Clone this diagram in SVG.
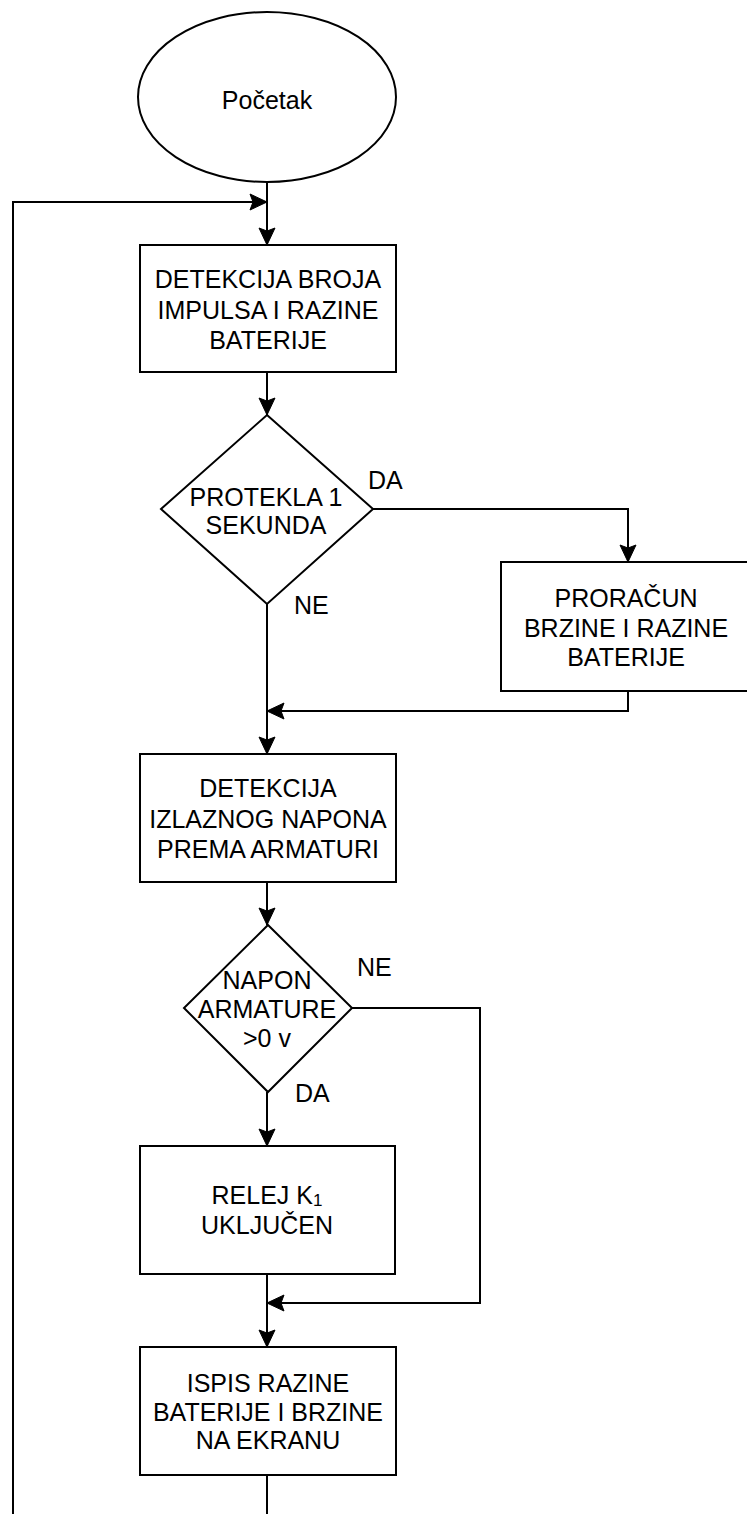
<svg xmlns="http://www.w3.org/2000/svg" width="747" height="1514" viewBox="0 0 747 1514">
<style>
.shape{fill:#fff;stroke:#000;stroke-width:2}
.conn{fill:none;stroke:#000;stroke-width:2}
text{font-family:"Liberation Sans",Arial,sans-serif;font-size:25px;fill:#000}
.c{text-anchor:middle}
</style>
<defs>
<marker id="arr" markerUnits="userSpaceOnUse" markerWidth="18" markerHeight="18" refX="17" refY="8" orient="auto" overflow="visible">
<path d="M0,0 L17,8 L0,16 L3,8 Z" fill="#000" stroke="#000" stroke-width="1" stroke-linejoin="miter"/>
</marker>
</defs>
<rect width="747" height="1514" fill="#fff"/>
<g id="connectors">
<path class="conn" d="M267,182 V245" marker-end="url(#arr)"/>
<path class="conn" d="M267,1475 V1530 H13 V202 H267" marker-end="url(#arr)"/>
<path class="conn" d="M267,372 V415" marker-end="url(#arr)"/>
<path class="conn" d="M373,509 H628 V562" marker-end="url(#arr)"/>
<path class="conn" d="M267,604 V754" marker-end="url(#arr)"/>
<path class="conn" d="M628,691 V711 H267" marker-end="url(#arr)"/>
<path class="conn" d="M267,882 V925" marker-end="url(#arr)"/>
<path class="conn" d="M267,1092 V1146" marker-end="url(#arr)"/>
<path class="conn" d="M352,1008 H480 V1303 H267" marker-end="url(#arr)"/>
<path class="conn" d="M267,1274 V1347" marker-end="url(#arr)"/>
<text x="368" y="489">DA</text>
<text x="294" y="614">NE</text>
<text x="357" y="976">NE</text>
<text x="295" y="1102">DA</text>
</g>
<g id="start">
<ellipse class="shape" cx="267" cy="97" rx="129" ry="85"/>
<text class="c" x="267" y="109">Početak</text>
</g>
<g id="detekcija-impulsa">
<rect class="shape" x="140" y="245" width="256" height="127"/>
<text class="c" x="268" y="288">DETEKCIJA BROJA</text>
<text class="c" x="268" y="319">IMPULSA I RAZINE</text>
<text class="c" x="268" y="349">BATERIJE</text>
</g>
<g id="protekla">
<polygon class="shape" points="267,415 373,509 267,604 161,509"/>
<text class="c" x="266" y="506">PROTEKLA 1</text>
<text class="c" x="266" y="534">SEKUNDA</text>
</g>
<g id="proracun">
<rect class="shape" x="501" y="562" width="250" height="129"/>
<text class="c" x="626" y="607">PRORAČUN</text>
<text class="c" x="626" y="637">BRZINE I RAZINE</text>
<text class="c" x="626" y="666">BATERIJE</text>
</g>
<g id="detekcija-napona">
<rect class="shape" x="140" y="754" width="256" height="128"/>
<text class="c" x="268" y="797">DETEKCIJA</text>
<text class="c" x="268" y="828">IZLAZNOG NAPONA</text>
<text class="c" x="268" y="858">PREMA ARMATURI</text>
</g>
<g id="napon">
<polygon class="shape" points="268,925 352,1008 268,1092 184,1008"/>
<text class="c" x="267" y="989">NAPON</text>
<text class="c" x="267" y="1018">ARMATURE</text>
<text class="c" x="267" y="1047">&gt;0 v</text>
</g>
<g id="relej">
<rect class="shape" x="140" y="1146" width="255" height="128"/>
<text class="c" x="267" y="1204">RELEJ K<tspan font-size="17" dy="2">1</tspan></text>
<text class="c" x="267" y="1234">UKLJUČEN</text>
</g>
<g id="ispis">
<rect class="shape" x="140" y="1347" width="256" height="128"/>
<text class="c" x="268" y="1392">ISPIS RAZINE</text>
<text class="c" x="268" y="1421">BATERIJE I BRZINE</text>
<text class="c" x="268" y="1449">NA EKRANU</text>
</g>
</svg>
